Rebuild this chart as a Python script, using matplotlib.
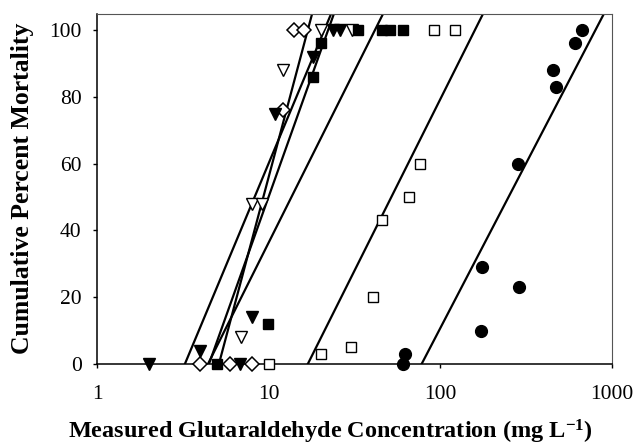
import numpy as np
import matplotlib
matplotlib.use("Agg")
import matplotlib.pyplot as plt

plt.rcParams['font.family'] = ['Liberation Serif', 'DejaVu Serif']
plt.rcParams['mathtext.default'] = 'regular'

# measured concentration (mg/L) and cumulative mortality (%) per test series
diam_x = [3.98, 5.96, 7.96, 12.2, 14.0, 16.1]
diam_y = [0, 0, 0, 76, 100, 100]

ftri_x = [2.0, 6.8, 3.98, 7.96, 10.9, 18.2, 23.7, 26.0]
ftri_y = [0, 0, 4, 14, 75, 92, 100, 100]

otri_x = [6.9, 7.96, 9.1, 12.1, 20.3, 30.6]
otri_y = [8, 48, 48, 88, 100, 100]

fsq_x = [4.98, 9.95, 18.2, 20.3, 33.1, 45.5, 51.0, 60.6]
fsq_y = [0, 12, 86, 96, 100, 100, 100, 100]

osq_x = [10.0, 20.1, 30.0, 40.3, 45.5, 65.6, 76.1, 91.8, 122]
osq_y = [0, 3, 5, 20, 43, 50, 60, 100, 100]

fcir_x = [60.3, 62.2, 172, 287, 176, 282, 469, 455, 608, 665]
fcir_y = [0, 3, 10, 23, 29, 60, 83, 88, 96, 100]

# fitted lines: concentration at 0 % and at 100 % mortality
line_x0 = [3.25, 4.49, 5.13, 4.43, 16.9, 77.8]
line_x100 = [21.1, 22.2, 16.9, 41.6, 159, 801]

fig = plt.figure(figsize=(6.37, 4.46), dpi=100)
ax = fig.add_axes([97/637, 1 - 364/446, (612 - 97)/637, (364 - 14)/446])

# regression lines (linear in log10 concentration), extended past the top
for x0, x100 in zip(line_x0, line_x100):
    a, b = np.log10(x0), np.log10(x100)
    yy = np.array([0, 120])
    xx = 10 ** (a + (b - a) * yy / 100)
    ax.plot(xx, yy, color='black', lw=1.6, zorder=2)

mk = dict(linestyle='none', clip_on=False, zorder=3)
ax.plot(diam_x, diam_y, marker='D', ms=7.5, mfc='white', mec='black', mew=1.1, **mk)
ax.plot(ftri_x, ftri_y, marker='v', ms=8, mfc='black', mec='black', **mk)
ax.plot(otri_x, otri_y, marker='v', ms=8, mfc='white', mec='black', mew=1.0, **mk)
ax.plot(fsq_x, fsq_y, marker='s', ms=6.5, mfc='black', mec='black', **mk)
ax.plot(osq_x, osq_y, marker='s', ms=6.5, mfc='white', mec='black', mew=1.0, **mk)
ax.plot(fcir_x, fcir_y, marker='o', ms=8.5, mfc='black', mec='black', **mk)

ax.set_xscale('log')
ax.set_xlim(1, 1000)
ax.set_ylim(0, 104.8)
ax.set_xticks([1, 10, 100, 1000])
ax.set_xticklabels(['1', '10', '100', '1000'])
ax.xaxis.set_minor_locator(matplotlib.ticker.NullLocator())
ax.set_yticks([0, 20, 40, 60, 80, 100])

ax.tick_params(axis='y', direction='out', length=3, width=1, pad=8, labelsize=15.5)
ax.tick_params(axis='x', direction='out', length=3, width=1, pad=12, labelsize=15.5)

for side in ['left', 'bottom']:
    ax.spines[side].set_linewidth(1.1)
for side in ['top', 'right']:
    ax.spines[side].set_linewidth(0.8)
    ax.spines[side].set_color('#555555')

fig.text(330/637, (446 - 432)/446, 'Measured Glutaraldehyde Concentration (mg L$^{-1}$)',
         ha='center', va='center', fontsize=17.5, fontweight='bold')
fig.text(23/637, 1 - 188/446, 'Cumulative Percent Mortality', rotation=90,
         ha='center', va='center', fontsize=18.5, fontweight='bold')

fig.savefig('out.png', dpi=100)
